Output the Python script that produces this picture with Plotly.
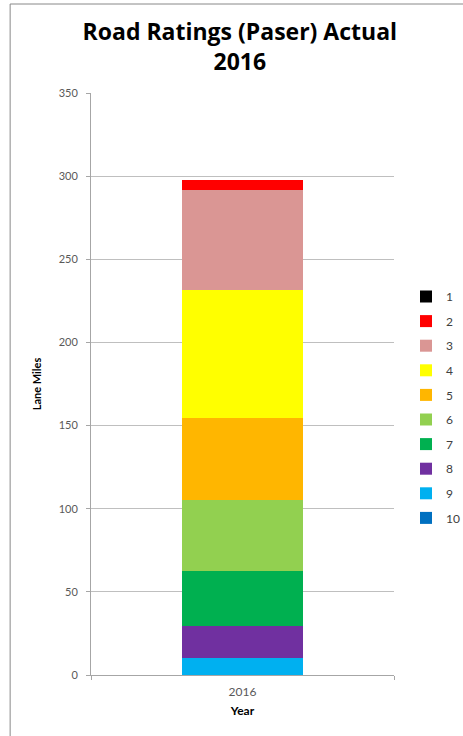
import plotly.graph_objects as go

years = ["2016"]
ratings = ["1", "2", "3", "4", "5", "6", "7", "8", "9", "10"]
values = [0, 6, 60, 77.4, 49.3, 42.7, 32.7, 19.5, 10.1, 0]
colors = ["#000000", "#FF0000", "#DA9694", "#FFFF00", "#FFB600",
          "#92D050", "#00B050", "#7030A0", "#00B0F0", "#0070C0"]
y_ticks = [0, 50, 100, 150, 200, 250, 300, 350]

fig = go.Figure()
# bottom of stack first: rating 10 at bottom, rating 1 on top
for rank, (name, val, col) in reversed(list(enumerate(zip(ratings, values, colors)))):
    fig.add_trace(go.Bar(
        x=years, y=[val], name=name, marker=dict(color=col, line=dict(width=0)),
        width=0.4, legendgroup=name, legendrank=1000 + rank,
    ))

grey = "#595959"
W, H = 463, 736
L, R, T, B = 91, 61, 93, 61
PW, PH = W - L - R, H - T - B
fig.update_layout(
    width=W, height=H, autosize=False,
    barmode="stack",
    paper_bgcolor="white", plot_bgcolor="white",
    margin=dict(l=L, r=R, t=T, b=B),
    font=dict(family="Lato, Open Sans, sans-serif", size=11, color=grey),
    title=dict(
        text="<b>Road Ratings (Paser) Actual<br>2016</b>",
        x=0.518, xanchor="center", y=1 - 40 / H, yanchor="top",
        font=dict(size=23, color="#000000", family="Open Sans, sans-serif"),
    ),
    legend=dict(
        xref="container", yref="container",
        x=406 / W, xanchor="left", y=1 - 282 / H, yanchor="top",
        traceorder="grouped", tracegroupgap=5.6,
        font=dict(size=12, color="#404040"), itemwidth=30,
        bgcolor="rgba(0,0,0,0)",
    ),
    xaxis=dict(
        range=[-0.5, 0.5],
        showline=True, linecolor="#A6A6A6", linewidth=1,
        ticks="outside", tickson="boundaries", ticklen=4, tickcolor="#A6A6A6",
        showgrid=False,
        title=dict(text="<b>Year</b>", font=dict(size=12, color="#000000"), standoff=8),
        tickfont=dict(size=12, color=grey),
        ticklabelstandoff=6,
    ),
    yaxis=dict(
        range=[0, 350], tickvals=y_ticks,
        showline=True, linecolor="#A6A6A6", linewidth=1,
        ticks="outside", ticklen=4, tickcolor="#A6A6A6",
        showgrid=True, gridcolor="#BFBFBF", gridwidth=1,
        zeroline=False,
        title=dict(text="<b>Lane Miles</b>", font=dict(size=11, color="#000000"), standoff=14),
        tickfont=dict(size=11, color=grey),
        ticklabelstandoff=6,
    ),
    shapes=[dict(
        type="rect", xref="paper", yref="paper",
        x0=(8 - L) / PW, x1=(W + 20 - L) / PW,
        y0=(H - B - (H + 20)) / PH, y1=(H - B - 4) / PH,
        line=dict(color="#888888", width=1), layer="below",
    )],
)

fig.write_html("out.html", config={"displayModeBar": False},
               post_script="document.body.style.margin='0';")
